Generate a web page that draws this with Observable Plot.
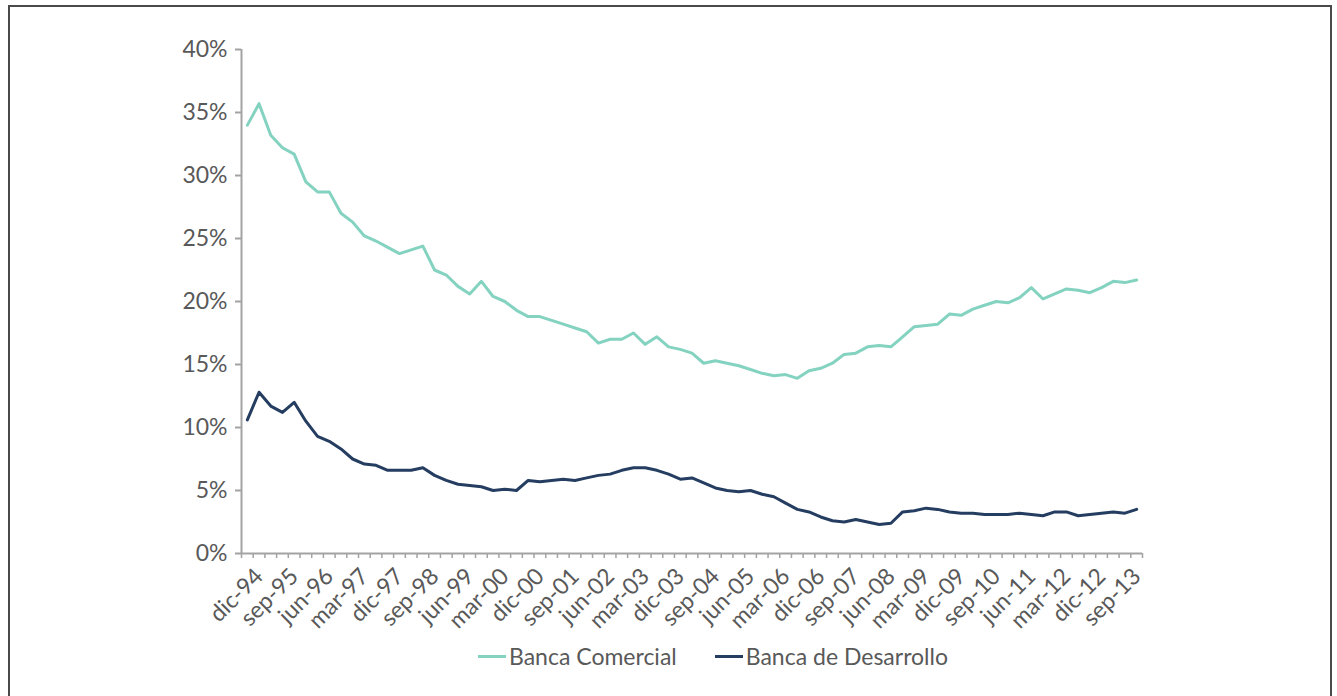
<!DOCTYPE html>
<html><head><meta charset="utf-8">
<script src="https://cdn.jsdelivr.net/npm/d3@7"></script>
<script src="https://cdn.jsdelivr.net/npm/@observablehq/plot@0.6"></script>
<style>
html,body{margin:0;padding:0;background:#fff;width:1337px;height:696px;overflow:hidden;}
#frame{position:absolute;left:8px;top:5px;width:1324px;height:700px;border:2px solid #4a4a4a;box-sizing:border-box;}
#chart{position:absolute;left:0;top:0;}
#legend{position:absolute;left:478px;top:642px;display:flex;align-items:center;font-family:Lato,sans-serif;font-size:23px;color:#595959;white-space:nowrap;}
#legend .item{display:flex;align-items:center;margin-right:38px;}
#legend .sw{display:inline-block;width:28px;height:3px;margin-right:3px;}
</style>
</head><body>
<div id="frame"></div>
<div id="chart"></div>
<div id="legend"></div>
<script>
const quarters = [
  "dic-94",
  "mar-95","jun-95","sep-95","dic-95",
  "mar-96","jun-96","sep-96","dic-96",
  "mar-97","jun-97","sep-97","dic-97",
  "mar-98","jun-98","sep-98","dic-98",
  "mar-99","jun-99","sep-99","dic-99",
  "mar-00","jun-00","sep-00","dic-00",
  "mar-01","jun-01","sep-01","dic-01",
  "mar-02","jun-02","sep-02","dic-02",
  "mar-03","jun-03","sep-03","dic-03",
  "mar-04","jun-04","sep-04","dic-04",
  "mar-05","jun-05","sep-05","dic-05",
  "mar-06","jun-06","sep-06","dic-06",
  "mar-07","jun-07","sep-07","dic-07",
  "mar-08","jun-08","sep-08","dic-08",
  "mar-09","jun-09","sep-09","dic-09",
  "mar-10","jun-10","sep-10","dic-10",
  "mar-11","jun-11","sep-11","dic-11",
  "mar-12","jun-12","sep-12","dic-12",
  "mar-13","jun-13","sep-13","dic-13"
];
const tickLabels = ["dic-94","sep-95","jun-96","mar-97","dic-97","sep-98","jun-99","mar-00","dic-00","sep-01","jun-02","mar-03","dic-03","sep-04","jun-05","mar-06","dic-06","sep-07","jun-08","mar-09","dic-09","sep-10","jun-11","mar-12","dic-12","sep-13"];
const comercial = [
  34.0, 35.7, 33.2, 32.2, 31.7, 29.5, 28.7, 28.7, 27.0, 26.3,
  25.2, 24.8, 24.3, 23.8, 24.1, 24.4, 22.5, 22.1, 21.2, 20.6,
  21.6, 20.4, 20.0, 19.3, 18.8, 18.8, 18.5, 18.2, 17.9, 17.6,
  16.7, 17.0, 17.0, 17.5, 16.6, 17.2, 16.4, 16.2, 15.9, 15.1,
  15.3, 15.1, 14.9, 14.6, 14.3, 14.1, 14.2, 13.9, 14.5, 14.7,
  15.1, 15.8, 15.9, 16.4, 16.5, 16.4, 17.2, 18.0, 18.1, 18.2,
  19.0, 18.9, 19.4, 19.7, 20.0, 19.9, 20.3, 21.1, 20.2, 20.6,
  21.0, 20.9, 20.7, 21.1, 21.6, 21.5, 21.7
];
const desarrollo = [
  10.6, 12.8, 11.7, 11.2, 12.0, 10.5, 9.3, 8.9, 8.3, 7.5,
  7.1, 7.0, 6.6, 6.6, 6.6, 6.8, 6.2, 5.8, 5.5, 5.4,
  5.3, 5.0, 5.1, 5.0, 5.8, 5.7, 5.8, 5.9, 5.8, 6.0,
  6.2, 6.3, 6.6, 6.8, 6.8, 6.6, 6.3, 5.9, 6.0, 5.6,
  5.2, 5.0, 4.9, 5.0, 4.7, 4.5, 4.0, 3.5, 3.3, 2.9,
  2.6, 2.5, 2.7, 2.5, 2.3, 2.4, 3.3, 3.4, 3.6, 3.5,
  3.3, 3.2, 3.2, 3.1, 3.1, 3.1, 3.2, 3.1, 3.0, 3.3,
  3.3, 3.0, 3.1, 3.2, 3.3, 3.2, 3.5
];
const seriesNames = ["Banca Comercial", "Banca de Desarrollo"];
const seriesColors = ["#84d2c0", "#243d60"];
const yTicks = [0, 5, 10, 15, 20, 25, 30, 35, 40];

const rows = [];
quarters.forEach((q, i) => {
  rows.push({i, q, v: comercial[i], s: seriesNames[0]});
  rows.push({i, q, v: desarrollo[i], s: seriesNames[1]});
});
const n = quarters.length;
const labelIdx = tickLabels.map(l => quarters.indexOf(l));
const axisColor = "#a3a3a3";

const chart = Plot.plot({
  width: 1337,
  height: 640,
  marginLeft: 241,
  marginRight: 195,
  marginTop: 49,
  marginBottom: 87,
  style: {fontFamily: "Lato, sans-serif", fontSize: "23px", color: "#595959", background: "transparent"},
  x: {type: "linear", domain: [-0.5, n - 0.5]},
  y: {domain: [0, 40]},
  color: {domain: seriesNames, range: seriesColors},
  marks: [
    Plot.axisY({ticks: yTicks, tickFormat: d => d + "%", tickSize: 6, tickPadding: 8, stroke: axisColor, strokeWidth: 2, label: null}),
    Plot.axisX({ticks: d3.range(-0.5, n, 1), tickSize: 5, tickFormat: () => "", stroke: axisColor, strokeWidth: 1.5, label: null}),
    Plot.axisX({ticks: labelIdx, tickSize: 0, tickRotate: -45, tickPadding: 10, dx: 12, dy: 9, tickFormat: i => quarters[i], label: null}),
    Plot.ruleX([-0.5], {stroke: axisColor, strokeWidth: 2}),
    Plot.ruleY([0], {stroke: axisColor, strokeWidth: 2}),
    Plot.line(rows, {x: "i", y: "v", z: "s", stroke: "s", strokeWidth: 3, strokeLinejoin: "round"})
  ]
});
document.getElementById("chart").appendChild(chart);

const legend = document.getElementById("legend");
seriesNames.forEach((name, k) => {
  const item = document.createElement("span");
  item.className = "item";
  const sw = document.createElement("span");
  sw.className = "sw";
  sw.style.background = seriesColors[k];
  item.appendChild(sw);
  item.appendChild(document.createTextNode(name));
  legend.appendChild(item);
});
</script>
</body></html>
